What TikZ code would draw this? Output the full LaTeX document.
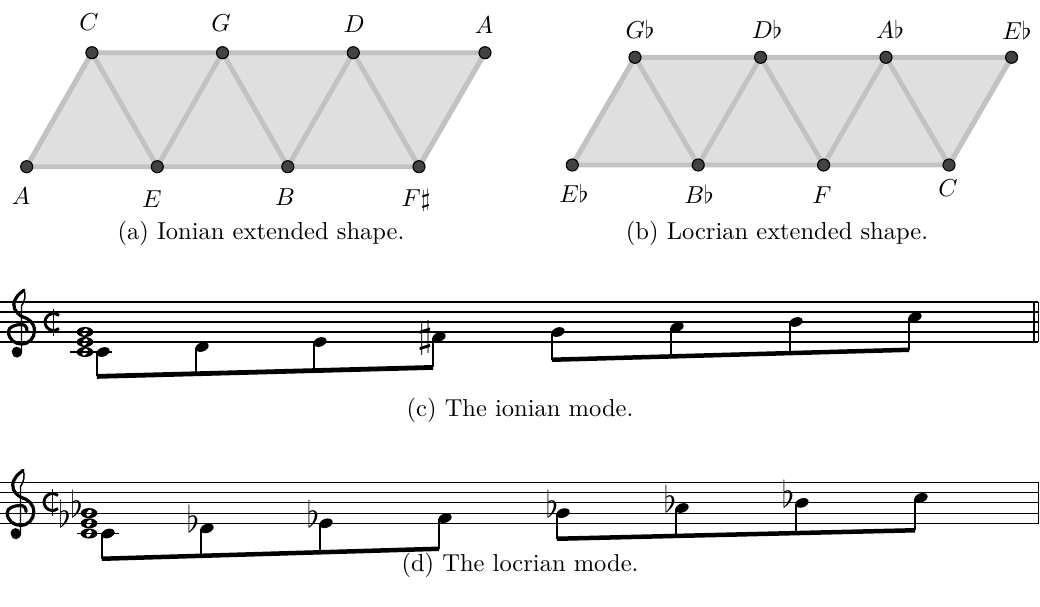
\documentclass[tikz,border=0pt]{standalone}
\usepackage{amsmath, amssymb}
\usepackage{xcolor}
\usepackage{tikz}
\usetikzlibrary{calc, positioning}

\definecolor{edgegray}{RGB}{194,194,194}
\definecolor{facegray}{RGB}{223,223,223}
\definecolor{dotgray}{RGB}{66,66,66}

\begin{document}
\begin{tikzpicture}[x=0.408pt, y=-0.408pt,
    vtx/.style={circle, draw=black, fill=dotgray, line width=0.45pt, inner sep=0pt, minimum size=4.9pt},
    tonnetz/.style={edgegray, line width=2pt, line join=round, line cap=round},
    lbl/.style={anchor=base, inner sep=0pt},
    staffline/.style={line width=0.45pt},
    stem/.style={line width=0.45pt},
    acc/.style={anchor=base, inner sep=0pt, xscale=1.3, yscale=1.5},
    clefbody/.style={line width=1.3pt, line cap=round},
    clefstem/.style={line width=0.6pt, line cap=round}]

    \useasboundingbox (0,0) rectangle (1040,606);

    % =================================================================
    % 1. IONIAN EXTENDED SHAPE
    % =================================================================
    \coordinate (ionA)  at (26.7,166.7);
    \coordinate (ionE)  at (157.3,166.7);
    \coordinate (ionB)  at (287.8,166.7);
    \coordinate (ionFs) at (419,166.7);
    \coordinate (ionC)  at (91.9,52.7);
    \coordinate (ionG)  at (222.5,52.7);
    \coordinate (ionD)  at (353.3,52.7);
    \coordinate (ionAt) at (485,52.7);

    \fill[facegray] (ionA) -- (ionFs) -- (ionAt) -- (ionC) -- cycle;
    \draw[tonnetz] (ionA) -- (ionFs) -- (ionAt) -- (ionC) -- cycle;
    \draw[tonnetz] (ionA) -- (ionC) -- (ionE) -- (ionG) -- (ionB) -- (ionD) -- (ionFs) -- (ionAt);

    \node[vtx] (ionAdot)  at (ionA)  {};
    \node[vtx] (ionEdot)  at (ionE)  {};
    \node[vtx] (ionBdot)  at (ionB)  {};
    \node[vtx] (ionFsdot) at (ionFs) {};
    \node[vtx] (ionCdot)  at (ionC)  {};
    \node[vtx] (ionGdot)  at (ionG)  {};
    \node[vtx] (ionDdot)  at (ionD)  {};
    \node[vtx] (ionAtdot) at (ionAt) {};

    % note names
    \node[lbl] at (89,30.5)   {$C$};
    \node[lbl] at (221,31.5)  {$G$};
    \node[lbl] at (354,32.5)  {$D$};
    \node[lbl] at (484,33.5)  {$A$};
    \node[lbl] at (21,204.5)  {$A$};
    \node[lbl] at (152,207.5) {$E$};
    \node[lbl] at (285,205.5) {$B$};
    \node[lbl] at (416,206.5) {$F\sharp$};

    \node at (261,233) {(a) Ionian extended shape.};

    % =================================================================
    % 2. LOCRIAN EXTENDED SHAPE
    % =================================================================
    \coordinate (locEb)  at (572.3,165);
    \coordinate (locBb)  at (698.2,165);
    \coordinate (locF)   at (823.6,165);
    \coordinate (locC)   at (949,165);
    \coordinate (locGb)  at (635,57.3);
    \coordinate (locDb)  at (760.6,57.3);
    \coordinate (locAb)  at (886,57.3);
    \coordinate (locEbt) at (1011.6,57.3);

    \fill[facegray] (locEb) -- (locC) -- (locEbt) -- (locGb) -- cycle;
    \draw[tonnetz] (locEb) -- (locC) -- (locEbt) -- (locGb) -- cycle;
    \draw[tonnetz] (locEb) -- (locGb) -- (locBb) -- (locDb) -- (locF) -- (locAb) -- (locC) -- (locEbt);

    \node[vtx] (locEbdot)  at (locEb)  {};
    \node[vtx] (locBbdot)  at (locBb)  {};
    \node[vtx] (locFdot)   at (locF)   {};
    \node[vtx] (locCdot)   at (locC)   {};
    \node[vtx] (locGbdot)  at (locGb)  {};
    \node[vtx] (locDbdot)  at (locDb)  {};
    \node[vtx] (locAbdot)  at (locAb)  {};
    \node[vtx] (locEbtdot) at (locEbt) {};

    % note names
    \node[lbl] at (640,38.5)   {$G\flat$};
    \node[lbl] at (767,38.5)   {$D\flat$};
    \node[lbl] at (890,38.5)   {$A\flat$};
    \node[lbl] at (1017,39.5)  {$E\flat$};
    \node[lbl] at (574,202)    {$E\flat$};
    \node[lbl] at (699,203.5)  {$B\flat$};
    \node[lbl] at (822,203.5)  {$F$};
    \node[lbl] at (948,196.5)  {$C$};

    \node at (777,233) {(b) Locrian extended shape.};

    % =================================================================
    % 3. STAFF (c): THE IONIAN MODE
    % =================================================================
    \foreach \yy in {302,312,322,332,342}
        \draw[staffline] (0,\yy) -- (1038,\yy);
    \draw[staffline] (1034,302) -- (1034,342);
    \draw[line width=0.6pt] (1038.3,302) -- (1038.3,342);

    % treble clef
    \begin{scope}[shift={(21,332)}, xscale=10, yscale=-10]
        \draw[clefbody] (0.6,0.15) .. controls (0.6,0.5) and (0.4,0.75) .. (0.05,0.75)
            .. controls (-0.6,0.75) and (-1.25,0.5) .. (-1.25,0.05)
            .. controls (-1.25,-0.75) and (-0.6,-1.2) .. (0.05,-1.2)
            .. controls (0.8,-1.2) and (1.35,-0.6) .. (1.35,0.1)
            .. controls (1.35,0.9) and (0.8,1.35) .. (0.1,1.55)
            .. controls (-0.6,1.95) and (-0.95,2.6) .. (-0.55,3.3)
            .. controls (-0.3,3.8) and (0.1,4.0) .. (0.3,4.2);
        \draw[clefstem] (0.3,4.2) .. controls (0.5,3.7) and (0.4,3.1) .. (0.05,2.6)
            -- (0.05,-1.9) .. controls (0.05,-2.6) and (-0.8,-2.7) .. (-0.75,-2.05);
        \fill (-0.43,-1.97) circle [radius=0.5];
    \end{scope}

    % cut time
    \draw[line width=1.2pt] (53.5,322) ++(50:8.5) arc[start angle=50, end angle=310, radius=8.5];
    \draw[line width=0.5pt] (53.5,309) -- (53.5,336);

    % C major triad and ledger line
    \draw[staffline] (70,352) -- (112,352);
    \foreach \wy in {352,342,332}
        \fill[even odd rule] (85,\wy) ellipse [x radius=3.4pt, y radius=2.05pt]
            {[rotate around={60:(85,\wy)}] (85,\wy) ellipse [x radius=1.6pt, y radius=1pt]};

    % eighth notes
    \foreach \nx/\ny/\by in {103/352/376, 202/347/373.4, 320/342/370.2, 439/337/367,
                             558/332/359.5, 677/327/356.2, 796/322/352.8, 915/317/349.5} {
        \fill[rotate around={20:(\nx,\ny)}] (\nx,\ny) ellipse [x radius=2.8pt, y radius=1.85pt];
        \draw[stem] (\nx-6,\ny+0.8) -- (\nx-6,\by);
    }
    \fill (96.8,374) -- (433.2,365) -- (433.2,369.8) -- (96.8,378.8) -- cycle;
    \fill (551.8,357.5) -- (909.2,347.5) -- (909.2,352) -- (551.8,362) -- cycle;
    \node[inner sep=0pt, scale=1.55] at (425,337.5) {$\sharp$};

    \node at (520,410) {(c) The ionian mode.};

    % =================================================================
    % 4. STAFF (d): THE LOCRIAN MODE
    % =================================================================
    \foreach \yy in {482.5,492.7,502.9,513.1,523.3}
        \draw[staffline] (0,\yy) -- (1039,\yy);
    \draw[staffline] (1038.7,482.5) -- (1038.7,523.3);

    % treble clef
    \begin{scope}[shift={(20,513.1)}, xscale=10.2, yscale=-10.2]
        \draw[clefbody] (0.6,0.15) .. controls (0.6,0.5) and (0.4,0.75) .. (0.05,0.75)
            .. controls (-0.6,0.75) and (-1.25,0.5) .. (-1.25,0.05)
            .. controls (-1.25,-0.75) and (-0.6,-1.2) .. (0.05,-1.2)
            .. controls (0.8,-1.2) and (1.35,-0.6) .. (1.35,0.1)
            .. controls (1.35,0.9) and (0.8,1.35) .. (0.1,1.55)
            .. controls (-0.6,1.95) and (-0.95,2.6) .. (-0.55,3.3)
            .. controls (-0.3,3.8) and (0.1,4.0) .. (0.3,4.2);
        \draw[clefstem] (0.3,4.2) .. controls (0.5,3.7) and (0.4,3.1) .. (0.05,2.6)
            -- (0.05,-1.9) .. controls (0.05,-2.6) and (-0.8,-2.7) .. (-0.75,-2.05);
        \fill (-0.43,-1.97) circle [radius=0.5];
    \end{scope}

    % cut time
    \draw[line width=1.2pt] (52.5,502) ++(50:8.5) arc[start angle=50, end angle=310, radius=8.5];
    \draw[line width=0.5pt] (52.5,488.5) -- (52.5,516);

    % diminished triad with flats and ledger line
    \node[acc] at (64.5,527.5) {$\flat$};
    \node[acc] at (76.5,517.3) {$\flat$};
    \draw[staffline] (77,533.5) -- (119,533.5);
    \foreach \wy in {533.5,523.3,513.1}
        \fill[even odd rule] (89,\wy) ellipse [x radius=3.4pt, y radius=2.05pt]
            {[rotate around={60:(89,\wy)}] (89,\wy) ellipse [x radius=1.6pt, y radius=1pt]};

    % eighth notes
    \foreach \nx/\ny/\by in {108/533.5/558.5, 207/528.4/555.6, 326/523.3/552, 445/518.2/548.5,
                             563/513.1/538.5, 682/508/535.7, 802/502.9/532.8, 921/497.8/530} {
        \fill[rotate around={20:(\nx,\ny)}] (\nx,\ny) ellipse [x radius=2.8pt, y radius=1.85pt];
        \draw[stem] (\nx-6,\ny+0.8) -- (\nx-6,\by);
    }
    \fill (101.8,556.5) -- (439.2,546.5) -- (439.2,551) -- (101.8,561) -- cycle;
    \fill (556.8,536.5) -- (915.2,528) -- (915.2,532.5) -- (556.8,541) -- cycle;
    \foreach \fx/\fy in {193/528.4, 313/523.3, 552/513.1, 670/508, 788/502.9}
        \node[acc] at (\fx,\fy+4.5) {$\flat$};

    \node at (520,565) {(d) The locrian mode.};

\end{tikzpicture}
\end{document}
